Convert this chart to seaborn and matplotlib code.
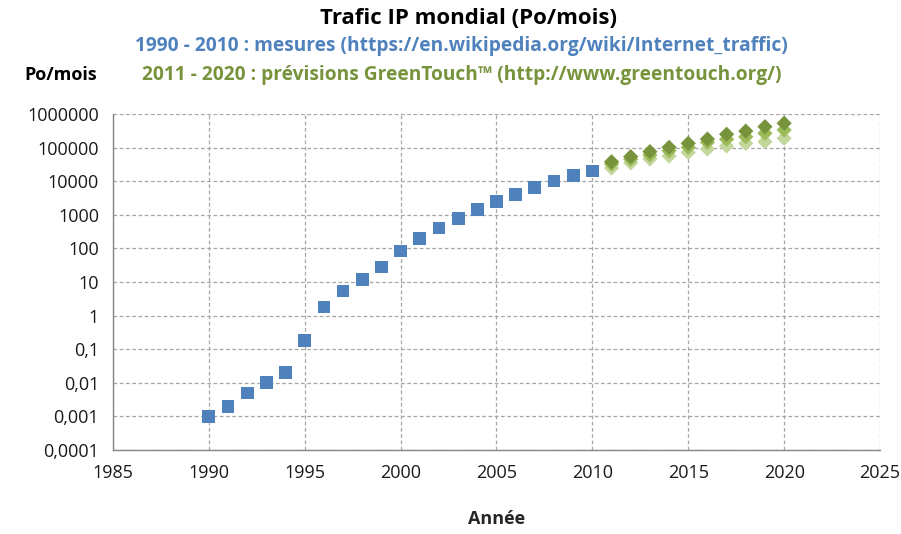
import numpy as np
import pandas as pd
import matplotlib
matplotlib.use("Agg")
import matplotlib.pyplot as plt
import seaborn as sns

# measured traffic 1990-2010 (Po/mois)
years_measured = list(range(1990, 2011))
traffic_measured = [0.001, 0.002, 0.005, 0.01, 0.02, 0.18, 1.8, 5.4, 12, 28, 84,
                    197, 405, 784, 1477, 2426, 3992, 6430, 10174, 14686, 20151]

# GreenTouch forecasts 2011-2020
years_forecast = list(range(2011, 2021))
forecast_high = [38000, 54000, 76000, 102000, 134000, 180000, 250000, 310000, 420000, 530000]
forecast_mid = [32500, 45000, 60000, 80000, 102000, 144000, 177000, 210000, 267000, 335000]
forecast_low = [24600, 35000, 46000, 56000, 72000, 91000, 112000, 134000, 150000, 189000]

ytick_vals = [1e-4, 1e-3, 1e-2, 1e-1, 1, 10, 100, 1000, 10000, 100000, 1000000]
ytick_labels = ["0,0001", "0,001", "0,01", "0,1", "1", "10", "100", "1000",
                "10000", "100000", "1000000"]
xtick_vals = [1985, 1990, 1995, 2000, 2005, 2010, 2015, 2020, 2025]

sns.set_style("white")
plt.rcParams["font.family"] = ["Open Sans", "DejaVu Sans"]

measured = pd.DataFrame({"Année": years_measured, "Trafic": traffic_measured})
forecast = pd.concat([
    pd.DataFrame({"Année": years_forecast, "Trafic": forecast_low, "Scénario": "bas"}),
    pd.DataFrame({"Année": years_forecast, "Trafic": forecast_mid, "Scénario": "moyen"}),
    pd.DataFrame({"Année": years_forecast, "Trafic": forecast_high, "Scénario": "haut"}),
])

fig = plt.figure(figsize=(9.01, 5.34), dpi=100)
ax = fig.add_axes([0.1254, 0.1573, 0.8513, 0.6292])

sns.scatterplot(data=measured, x="Année", y="Trafic", marker="s", s=85,
                color="#4F81BD", edgecolor="none", ax=ax, zorder=3)
sns.scatterplot(data=forecast, x="Année", y="Trafic", hue="Scénario",
                palette={"bas": "#C3D69B", "moyen": "#9BBB59", "haut": "#77933C"},
                marker="D", s=60, edgecolor="none", ax=ax, legend=False, zorder=3)

ax.set_yscale("log")
ax.set_ylim(1e-4, 1e6)
ax.set_xlim(1985, 2025)
ax.set_yticks(ytick_vals)
ax.set_yticklabels(ytick_labels)
ax.minorticks_off()
ax.set_xticks(xtick_vals)

ax.grid(True, color="#A6A6A6", linestyle=(0, (3, 2)), linewidth=0.9)
ax.set_axisbelow(True)
for side in ["top", "right"]:
    ax.spines[side].set_visible(False)
for side in ["left", "bottom"]:
    ax.spines[side].set_color("#868686")
    ax.spines[side].set_linewidth(1.0)
ax.tick_params(axis="both", direction="out", length=5, color="#868686",
               labelsize=13, labelcolor="#1a1a1a", pad=5)

ax.set_xlabel("Année", fontsize=13, fontweight="bold", labelpad=20)
ax.set_ylabel("")

fig.text(0.52, 0.965, "Trafic IP mondial (Po/mois)", ha="center", va="center",
         fontsize=16, fontweight="bold", color="black")
fig.text(0.512, 0.913, "1990 - 2010 : mesures (https://en.wikipedia.org/wiki/Internet_traffic)",
         ha="center", va="center", fontsize=13.8, fontweight="bold", color="#4F81BD")
fig.text(0.512, 0.86, "2011 - 2020 : prévisions GreenTouch™ (http://www.greentouch.org/)",
         ha="center", va="center", fontsize=13.8, fontweight="bold", color="#77933C")
fig.text(0.067, 0.86, "Po/mois", ha="center", va="center",
         fontsize=13, fontweight="bold", color="black")

fig.savefig("out.png", dpi=100)
